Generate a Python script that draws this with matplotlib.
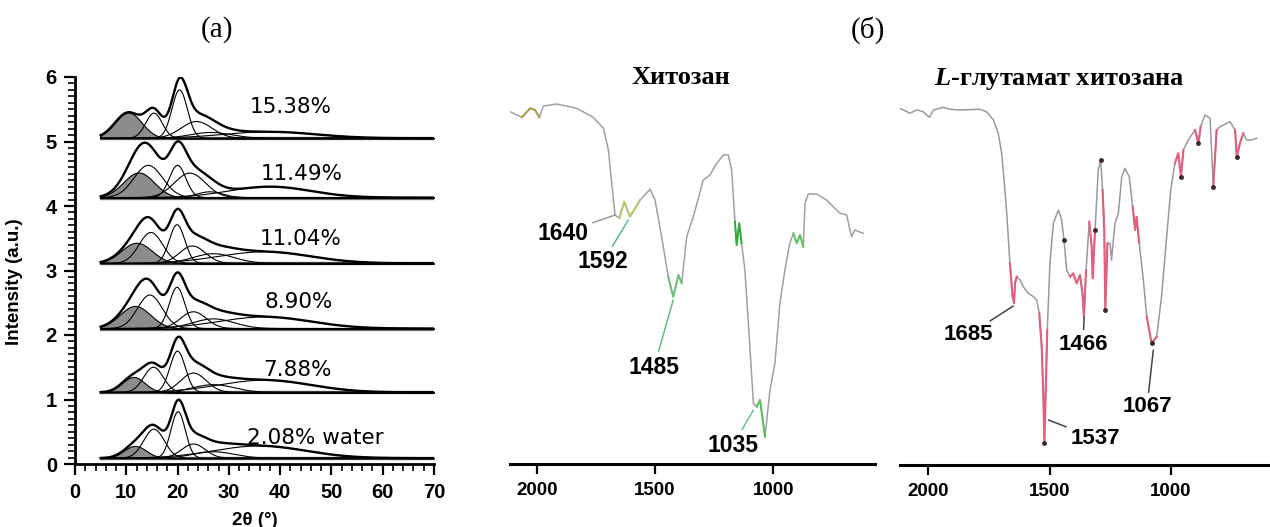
"""
Two-panel figure: (а) XRD peak fits of chitosan at several water contents,
(б) IR spectra of chitosan and chitosan L-glutamate.
"""

import numpy as np
import matplotlib
matplotlib.use("Agg")
import matplotlib.pyplot as plt
from matplotlib.ticker import MultipleLocator

plt.rcParams["mathtext.fontset"] = "custom"
plt.rcParams["mathtext.it"] = "Liberation Serif:italic:bold"
plt.rcParams["mathtext.rm"] = "Liberation Serif:bold"

# ---------------- (а) XRD: peak-fit components ----------------
water_labels = ["2.08% water", "7.88%", "8.90%", "11.04%", "11.49%", "15.38%"]
baselines = [0.09, 1.11, 2.10, 3.11, 4.13, 5.05]
label_x = [46.9, 43.4, 43.7, 43.9, 44.2, 42.1]
label_y = [0.41, 1.46, 2.51, 3.49, 4.50, 5.53]
# per trace: first peak is the shaded one, last is the broad amorphous hump
peak_centres = [
    [11.7, 15.4, 20.1, 23.1, 27.0, 36.0],
    [11.4, 15.3, 20.0, 23.1, 27.0, 37.0],
    [11.7, 14.6, 19.9, 23.1, 27.0, 37.0],
    [12.0, 14.8, 19.9, 22.9, 27.0, 37.0],
    [12.4, 14.3, 20.0, 22.4, 26.3, 38.0],
    [10.4, 15.4, 20.4, 23.7, 26.5, 38.0],
]
peak_heights = [
    [0.19, 0.45, 0.72, 0.22, 0.10, 0.19],
    [0.24, 0.39, 0.64, 0.30, 0.12, 0.19],
    [0.35, 0.52, 0.64, 0.26, 0.15, 0.18],
    [0.32, 0.48, 0.60, 0.27, 0.15, 0.18],
    [0.39, 0.50, 0.50, 0.38, 0.09, 0.17],
    [0.40, 0.39, 0.75, 0.26, 0.09, 0.10],
]
peak_widths = [
    [2.2, 2.0, 1.4, 2.3, 4.0, 9.0],
    [2.2, 1.9, 1.5, 2.5, 4.0, 9.0],
    [3.0, 2.4, 1.5, 2.5, 4.0, 9.0],
    [3.0, 2.3, 1.5, 2.5, 4.0, 9.0],
    [3.0, 2.8, 1.6, 3.0, 2.5, 8.0],
    [2.6, 1.6, 1.5, 3.0, 4.0, 9.0],
]
two_theta = np.linspace(5, 70, 651)

# ---------------- (б) IR spectra ----------------
chitosan_wn = [2113, 2063, 2028, 2007, 1989, 1972, 1915, 1831, 1761, 1718, 1697,
               1683, 1669, 1651, 1630, 1606, 1563, 1521, 1500, 1472, 1444, 1423,
               1401, 1387, 1366, 1338, 1296, 1268, 1239, 1211, 1190, 1176, 1162,
               1155, 1144, 1134, 1120, 1099, 1084, 1070, 1056, 1035, 1014, 993,
               972, 951, 930, 915, 901, 887, 873, 866, 852, 817, 775, 718, 690,
               669, 655, 620]
chitosan_t = [352.3, 346.7, 355.7, 354.0, 346.7, 358.0, 360.0, 355.7, 346.7, 335.7,
              314.0, 280.7, 249.0, 245.7, 262.3, 247.3, 264.0, 274.7, 264.0, 227.3,
              187.3, 167.3, 189.0, 180.7, 227.3, 247.3, 284.0, 289.0, 300.7, 309.0,
              309.0, 294.0, 242.3, 219.0, 240.7, 220.7, 194.0, 117.3, 60.7, 57.3,
              64.0, 27.3, 74.0, 100.7, 160.7, 194.0, 220.7, 230.7, 220.7, 229.0,
              217.3, 260.7, 270.0, 270.0, 264.0, 250.7, 249.0, 227.3, 234.0, 230.7]
chitosan_marks = ["1640", "1592", "1485", "1035"]
chitosan_mark_xy = [(1669, 249), (1613, 244), (1423, 164), (1084, 54)]
chitosan_mark_text = [(1889, 231), (1720, 202), (1504, 97), (1170, 19)]
chitosan_mark_col = ["#9a9a9a", "#5fb59a", "#5fbf86", "#6cc08c"]
chitosan_tints = [(2075, 1985, "#a3a04a"), (1660, 1560, "#b9c46c"),
                  (1445, 1380, "#6dbf7a"), (1165, 1130, "#2fae3a"),
                  (1075, 1030, "#5cbf5c"), (920, 870, "#5cc45c")]

glut_wn = [2117, 2076, 2048, 2021, 1996, 1979, 1938, 1911, 1870, 1787, 1760, 1732,
           1712, 1698, 1688, 1677, 1664, 1653, 1647, 1643, 1636, 1622, 1609, 1588,
           1567, 1554, 1543, 1533, 1526, 1522, 1517, 1510, 1499, 1485, 1464, 1451,
           1441, 1430, 1416, 1403, 1389, 1375, 1365, 1359, 1350, 1337, 1327, 1323,
           1313, 1300, 1290, 1282, 1275, 1271, 1262, 1251, 1245, 1231, 1217, 1203,
           1190, 1172, 1158, 1148, 1142, 1131, 1114, 1100, 1080, 1059, 1039, 1018,
           1001, 984, 970, 959, 949, 929, 901, 887, 878, 860, 839, 826, 812, 798,
           757, 736, 729, 716, 702, 688, 668, 647]
glut_t = [356.7, 351.7, 355.0, 353.3, 347.7, 355.0, 357.7, 355.7, 355.0, 355.7,
          353.3, 345.0, 331.7, 311.7, 285.0, 251.7, 201.7, 168.3, 161.7, 181.7,
          188.3, 185.0, 178.3, 171.7, 168.3, 165.0, 151.7, 118.3, 68.3, 21.7,
          68.3, 135.0, 201.7, 241.7, 255.0, 245.0, 225.0, 195.0, 188.3, 191.7,
          181.7, 190.0, 171.7, 148.3, 195.0, 243.3, 218.3, 186.7, 235.0, 295.0,
          305.0, 275.0, 235.0, 155.0, 221.7, 221.7, 205.0, 241.7, 251.7, 288.3,
          296.7, 288.3, 258.3, 235.0, 248.3, 221.7, 185.0, 148.3, 121.7, 128.3,
          168.3, 228.3, 275.0, 301.7, 311.7, 288.3, 315.0, 325.0, 335.0, 321.7,
          338.3, 350.0, 346.7, 278.3, 335.0, 338.3, 343.3, 335.0, 308.3, 321.7,
          331.7, 325.0, 325.0, 326.7]
glut_marks = ["1685", "1466", "1067", "1537"]
glut_mark_xy = [(1650, 159), (1358, 148), (1073, 115), (1505, 45)]
glut_mark_text = [(1836, 130), (1363, 121), (1099, 58), (1313, 27)]
glut_tints = [(1665, 1636), (1545, 1500), (1416, 1350), (1340, 1310),
              (1283, 1262), (1160, 1130), (1100, 1040), (985, 945),
              (905, 875), (830, 810), (740, 700)]
glut_dots_wn = [1522, 1290, 1271, 1080, 959, 887, 826, 729, 1441, 1313]
glut_dots_t = [21.7, 305.0, 155.0, 121.7, 288.3, 321.7, 278.3, 308.3, 225.0, 235.0]

W, H = 1270, 527
fig = plt.figure(figsize=(W / 100, H / 100), dpi=100)
sans = "Liberation Sans"
serif = "Liberation Serif"


def gauss(x, c, h, w):
    return h * np.exp(-0.5 * ((x - c) / w) ** 2)


# ---------------- panel (а) ----------------
ax = fig.add_axes([75 / W, (H - 464) / H, (434 - 75) / W, (464 - 77) / H])
for i, base in enumerate(baselines):
    comps = [gauss(two_theta, c, h, w) for c, h, w in
             zip(peak_centres[i], peak_heights[i], peak_widths[i])]
    total = np.sum(comps, axis=0)
    ax.plot([5, 70], [base, base], color="#777777", lw=2.4, zorder=1)
    ax.plot([5, 70], [base, base], color="black", lw=0.8, zorder=1)
    ax.fill_between(two_theta, base, base + comps[0], color="#8c8c8c",
                    edgecolor="black", lw=0.8, zorder=2)
    for g in comps[1:]:
        ax.plot(two_theta, base + g, color="black", lw=0.8, zorder=3)
    ax.plot(two_theta, base + total, color="black", lw=1.7, zorder=4)
    ax.text(label_x[i], label_y[i], water_labels[i], ha="center", va="center",
            fontsize=15.5, family="DejaVu Sans")

ax.set_xlim(0, 70)
ax.set_ylim(0, 6)
ax.xaxis.set_major_locator(MultipleLocator(10))
ax.xaxis.set_minor_locator(MultipleLocator(2))
ax.yaxis.set_major_locator(MultipleLocator(1))
ax.yaxis.set_minor_locator(MultipleLocator(0.1))
for s in ("top", "right"):
    ax.spines[s].set_visible(False)
for s in ("left", "bottom"):
    ax.spines[s].set_linewidth(2)
ax.tick_params(which="major", length=8, width=1.6, direction="out")
ax.tick_params(which="minor", length=5, width=1.2, direction="out")
ax.tick_params(axis="x", pad=6)
ax.tick_params(axis="y", pad=5)
for lab in ax.get_xticklabels() + ax.get_yticklabels():
    lab.set_fontfamily(sans)
    lab.set_fontweight("bold")
    lab.set_fontsize(14.5)
ax.set_xlabel("2θ (°)", fontsize=13.5, fontweight="bold", family=sans)
ax.xaxis.set_label_coords(0.5, -0.125)
ax.set_ylabel("Intensity (a.u.)", fontsize=13.5, fontweight="bold", family=sans)
ax.yaxis.set_label_coords(-0.146, 0.47)


# ---------------- panel (б) ----------------
def ir_axes(rect, xlim, ylim):
    a = fig.add_axes(rect)
    a.set_xlim(*xlim)
    a.set_ylim(*ylim)
    for s in ("top", "right", "left"):
        a.spines[s].set_visible(False)
    a.spines["bottom"].set_linewidth(2.2)
    a.set_yticks([])
    a.set_xticks([2000, 1500, 1000])
    a.tick_params(axis="x", length=7, width=1.6, direction="out", pad=6)
    for lab in a.get_xticklabels():
        lab.set_fontfamily(sans)
        lab.set_fontweight("bold")
        lab.set_fontsize(13.5)
    return a


b1 = ir_axes([510 / W, (H - 464) / H, 365 / W, (464 - 75) / H], (2113, 570), (0, 389))
wn1, t1 = np.array(chitosan_wn), np.array(chitosan_t)
b1.plot(wn1, t1, color="#a0a0a0", lw=1.1)
for hi, lo, col in chitosan_tints:
    m = (wn1 <= hi) & (wn1 >= lo)
    b1.plot(wn1[m], t1[m], color=col, lw=1.4)
for lab, xy, xt, col in zip(chitosan_marks, chitosan_mark_xy, chitosan_mark_text,
                            chitosan_mark_col):
    b1.annotate(lab, xy=xy, xytext=xt, ha="center", va="center", fontsize=16.5,
                fontweight="bold", family=sans,
                arrowprops=dict(arrowstyle="-", color=col, lw=1.1, shrinkA=1, shrinkB=0))

b2 = ir_axes([900 / W, (H - 465) / H, 370 / W, (465 - 75) / H], (2117, 592), (0, 390))
wn2, t2 = np.array(glut_wn), np.array(glut_t)
b2.plot(wn2, t2, color="#9a9a9a", lw=1.1)
for hi, lo in glut_tints:
    m = (wn2 <= hi) & (wn2 >= lo)
    b2.plot(wn2[m], t2[m], color="#e0607e", lw=1.5)
b2.plot(glut_dots_wn, glut_dots_t, "o", color="#3a2a2a", ms=2.5)
for lab, xy, xt in zip(glut_marks, glut_mark_xy, glut_mark_text):
    b2.annotate(lab, xy=xy, xytext=xt, ha="center", va="center", fontsize=16,
                fontweight="bold", family=sans,
                arrowprops=dict(arrowstyle="-", color="#444444", lw=1.1, shrinkA=1, shrinkB=0))

# titles and panel letters
fig.text(681 / W, 1 - 77 / H, "Хитозан", ha="center", va="center", fontsize=19,
         family=serif, fontweight="bold")
fig.text(1059 / W, 1 - 79 / H, r"$\mathit{L}$-глутамат хитозана", ha="center",
         va="center", fontsize=19, family=serif, fontweight="bold")
fig.text(217 / W, 1 - 30 / H, "(а)", ha="center", va="center", fontsize=21, family=serif)
fig.text(868 / W, 1 - 30 / H, "(б)", ha="center", va="center", fontsize=21, family=serif)

fig.savefig("out.png", dpi=100)
